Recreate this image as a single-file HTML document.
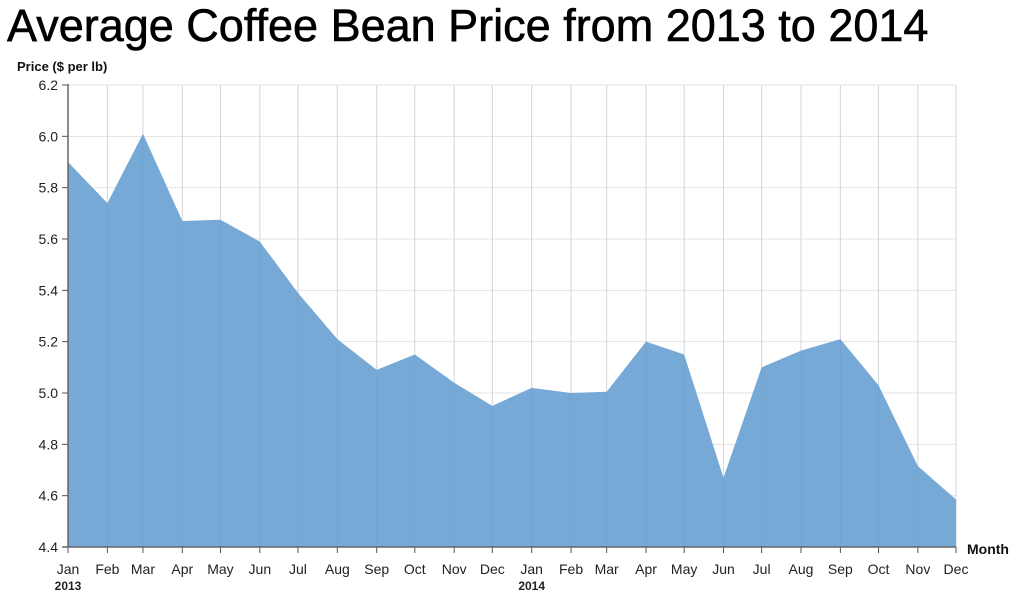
<!DOCTYPE html>
<html><head><meta charset="utf-8"><style>
body{margin:0;background:#fff;width:1024px;height:602px;overflow:hidden;font-family:"Liberation Sans",Arial,sans-serif}
h1{position:absolute;left:7px;top:0px;margin:0;font-size:45px;font-weight:normal;color:#000;letter-spacing:0px;-webkit-text-stroke:0.6px #000;white-space:nowrap}
svg{position:absolute;left:0;top:0}
</style></head><body>
<h1>Average Coffee Bean Price from 2013 to 2014</h1>
<svg id="c" width="1024" height="602"></svg>
<script>
const months=["Jan","Feb","Mar","Apr","May","Jun","Jul","Aug","Sep","Oct","Nov","Dec","Jan","Feb","Mar","Apr","May","Jun","Jul","Aug","Sep","Oct","Nov","Dec"];
const years=[2013,2013,2013,2013,2013,2013,2013,2013,2013,2013,2013,2013,2014,2014,2014,2014,2014,2014,2014,2014,2014,2014,2014,2014];
const prices=[5.90,5.74,6.01,5.67,5.675,5.59,5.39,5.21,5.09,5.15,5.04,4.95,5.02,5.00,5.005,5.20,5.15,4.67,5.10,5.165,5.21,5.03,4.715,4.585];
const yTicks=[4.4,4.6,4.8,5.0,5.2,5.4,5.6,5.8,6.0,6.2];
const NS="http://www.w3.org/2000/svg",svg=document.getElementById('c');
const x0=68,x1=956,y0=547,y1=85;
const t0=Date.UTC(2013,0,1),t1=Date.UTC(2014,11,1);
const mi=months.map((m,i)=>i);
function X(i){const t=Date.UTC(years[i],i%12,1);return x0+(t-t0)/(t1-t0)*(x1-x0);}
function Y(v){return y0-(v-4.4)/(6.2-4.4)*(y0-y1);}
function el(tag,a,txt){const e=document.createElementNS(NS,tag);for(const k in a)e.setAttribute(k,a[k]);if(txt!=null)e.textContent=txt;svg.appendChild(e);return e;}
yTicks.forEach(v=>{
 const g=el('line',{x1:x0,x2:x1,y1:Y(v),y2:Y(v),stroke:'#e3e3e3'});
 
 
 const tk=el('line',{x1:x0-6,x2:x0,y1:Y(v),y2:Y(v),stroke:'#555'});
 
 
 const t=el('text',{x:x0-10,y:Y(v)+5,'text-anchor':'end','font-size':14,fill:'#222'},v.toFixed(1));
 
 
});
mi.forEach(i=>{
 const g=el('line',{x1:X(i),x2:X(i),y1:y1,y2:y0,stroke:'#e3e3e3'});
 
 
});
let d='M'+X(0)+','+y0;
mi.forEach(i=>{d+=' L'+X(i)+','+Y(prices[i]);});
d+=' L'+X(mi.length-1)+','+y0+' Z';
const a=el('path',{d:d,fill:'#77a9d6'});


mi.forEach(i=>{
 const g=el('line',{x1:X(i),x2:X(i),y1:y1,y2:y0,stroke:'rgba(90,130,170,0.12)'});
 
 
 const tk=el('line',{x1:X(i),x2:X(i),y1:y0,y2:y0+6,stroke:'#555'});
 
 
 const t=el('text',{x:X(i),y:y0+27,'text-anchor':'middle','font-size':14,fill:'#222'},months[i]);
 
 
 if(i%12===0){const y=el('text',{x:X(i),y:y0+43,'text-anchor':'middle','font-size':12,'font-weight':'bold',fill:'#222'},years[i]);
 
 }
});
const ya=el('line',{x1:x0,x2:x0,y1:y1-1,y2:y0,stroke:'#666','stroke-width':1.5});


const xa=el('line',{x1:x0-6,x2:x1,y1:y0,y2:y0,stroke:'#666','stroke-width':1.5});


const yt=el('text',{x:17,y:71,'font-size':13,'font-weight':'bold',fill:'#111'},'Price ($ per lb)');


const xt=el('text',{x:967,y:554,'font-size':14,'font-weight':'bold',fill:'#111'},'Month');


</script>
</body></html>
